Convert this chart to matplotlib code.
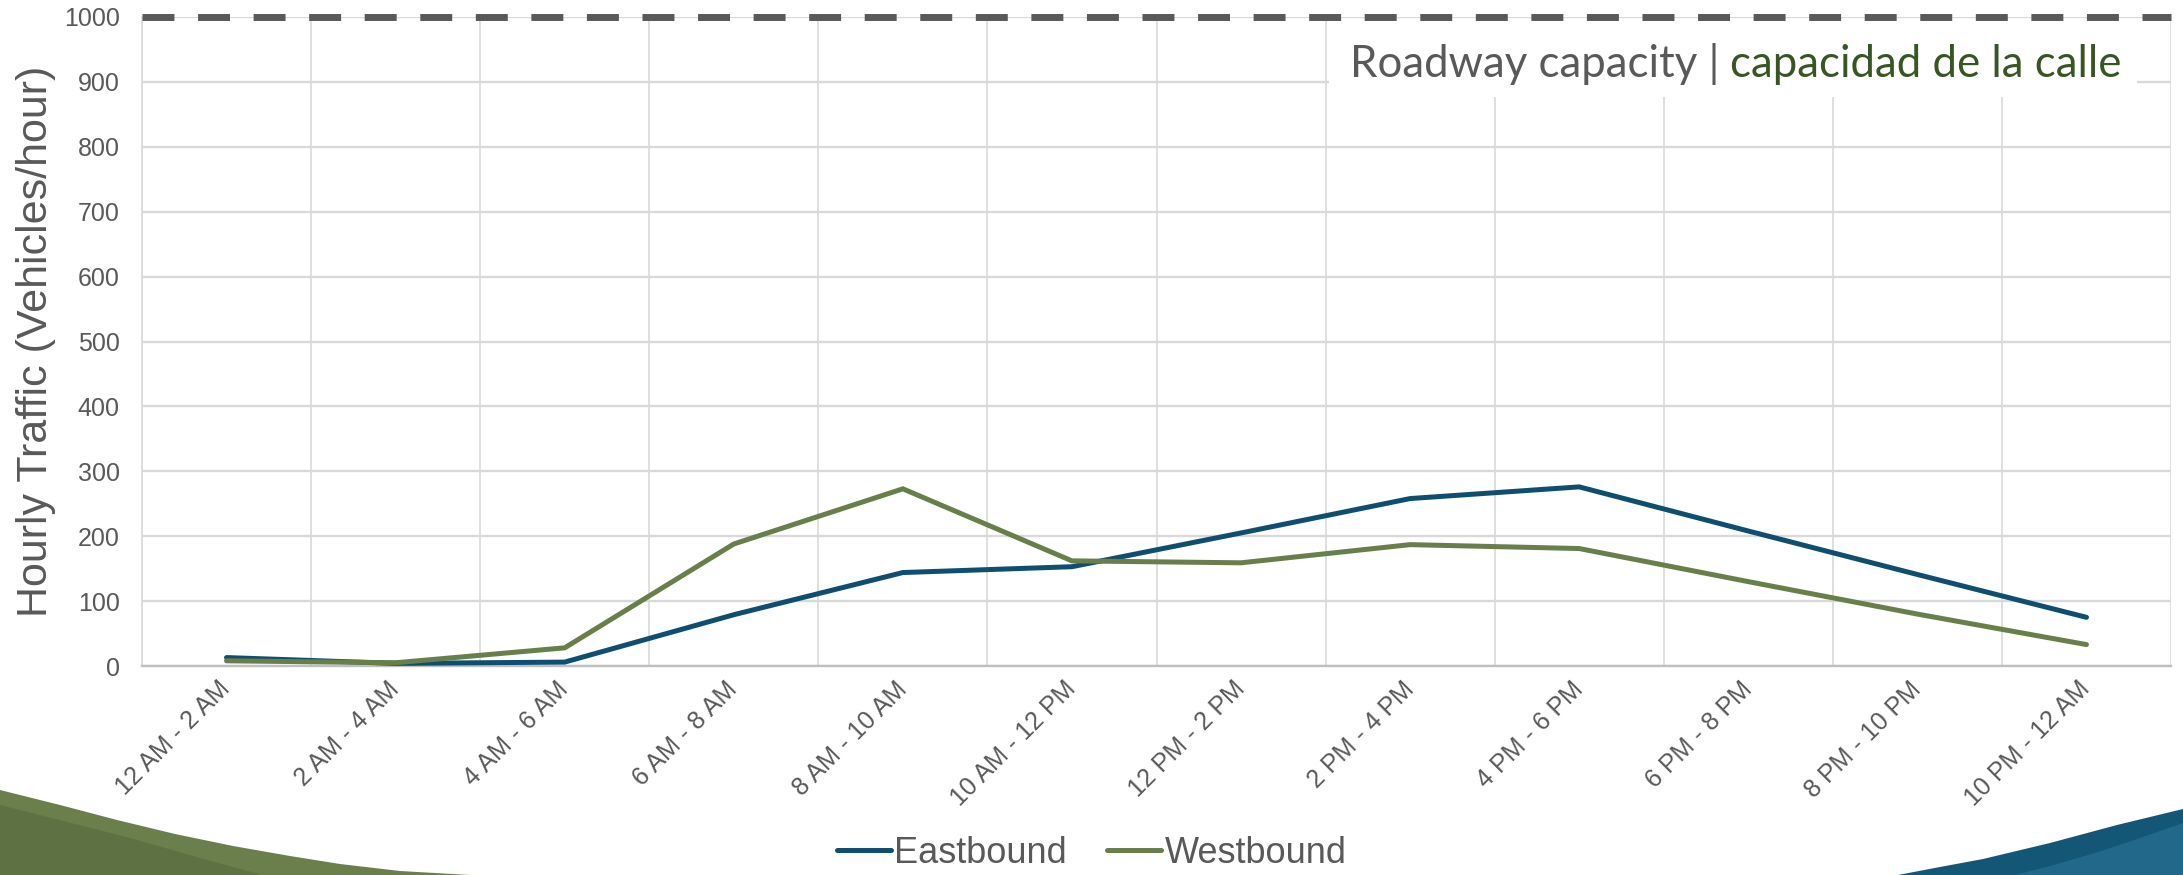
import matplotlib
matplotlib.use("Agg")
import matplotlib.pyplot as plt
from matplotlib.patches import Polygon, Rectangle
import numpy as np

plt.rcParams['font.family'] = ['Liberation Sans', 'DejaVu Sans']

categories = ["12 AM - 2 AM", "2 AM - 4 AM", "4 AM - 6 AM", "6 AM - 8 AM",
              "8 AM - 10 AM", "10 AM - 12 PM", "12 PM - 2 PM", "2 PM - 4 PM",
              "4 PM - 6 PM", "6 PM - 8 PM", "8 PM - 10 PM", "10 PM - 12 AM"]
eastbound = [13, 4, 6, 79, 144, 153, 205, 258, 276, 208, 141, 75]
westbound = [8, 5, 28, 188, 273, 162, 159, 187, 181, 130, 80, 33]
capacity = 1000
y_ticks = [0, 100, 200, 300, 400, 500, 600, 700, 800, 900, 1000]

W, H = 2183, 875
fig = plt.figure(figsize=(W / 100, H / 100), dpi=100)
ax = fig.add_axes([142 / W, 1 - 666 / H, (2171 - 142) / W, 649 / H])

GRAY = '#595959'
EAST_C = '#0E4F71'
WEST_C = '#687F4A'

x = np.arange(len(categories)) + 0.5
ax.plot(x, eastbound, color=EAST_C, lw=3.6, solid_joinstyle='miter', solid_capstyle='round',
        zorder=3, label='Eastbound')
ax.plot(x, westbound, color=WEST_C, lw=3.6, solid_joinstyle='miter', solid_capstyle='round',
        zorder=3, label='Westbound')
ax.axhline(capacity, color=GRAY, lw=5, dashes=(4.6, 3.4), dash_capstyle='butt', zorder=5,
           clip_on=False)

ax.set_xlim(0, len(categories))
ax.set_ylim(0, 1000)
ax.set_yticks(y_ticks)
ax.set_yticklabels([str(v) for v in y_ticks])
ax.set_xticks(x)
ax.set_xticklabels(categories, rotation=45, ha='right', va='center', rotation_mode='anchor')
ax.set_xticks(np.arange(len(categories) + 1), minor=True)
ax.tick_params(axis='both', which='both', length=0, colors=GRAY, labelsize=18)
ax.tick_params(axis='y', pad=16)
ax.tick_params(axis='x', pad=14)

ax.set_axisbelow(True)
ax.grid(axis='y', which='major', color='#D9D9D9', lw=1.7)
ax.grid(axis='x', which='minor', color='#D9D9D9', lw=1.2)
ax.grid(axis='x', which='major', visible=False)
for s in ['top', 'right']:
    ax.spines[s].set_visible(False)
ax.spines['left'].set_color('#D9D9D9')
ax.spines['left'].set_linewidth(1.2)
ax.spines['bottom'].set_color('#BFBFBF')
ax.spines['bottom'].set_linewidth(1.7)

ax.set_ylabel('Hourly Traffic (Vehicles/hour)', fontsize=31, color=GRAY, labelpad=6)

# annotation box
ax.add_patch(Rectangle((0.585, 0.877), 0.398, 0.117, transform=ax.transAxes,
                       facecolor='white', edgecolor='none', zorder=1))
ANN_FONT = ['Lato', 'DejaVu Sans']
t1 = ax.text(0.5953, 0.927, 'Roadway capacity |', transform=ax.transAxes,
             fontsize=31.5, color=GRAY, va='center', ha='left', zorder=6, family=ANN_FONT)
ax.annotate('capacidad de la calle', xy=(1, 0), xycoords=t1, xytext=(8, 0),
            textcoords='offset points', va='bottom', ha='left', fontsize=31.5,
            color='#375623', zorder=6, family=ANN_FONT)

leg = fig.legend(loc='lower center', bbox_to_anchor=(0.5, -0.012), ncol=2, frameon=False,
                 fontsize=26, handlelength=1.5, handletextpad=0.1, columnspacing=1.1,
                 borderaxespad=0)
for t in leg.get_texts():
    t.set_color(GRAY)

# decorative swooshes
def px(pts):
    return [(a / W, 1 - b / H) for a, b in pts]

fig.patches.append(Polygon(px([(0, 790), (60, 805), (117, 820), (175, 834), (233, 846),
                               (290, 856), (340, 864), (400, 871), (470, 875), (0, 875)]),
                           closed=True, transform=fig.transFigure, facecolor='#6A7F4C',
                           edgecolor='none', zorder=0))
fig.patches.append(Polygon(px([(0, 805), (130, 838), (200, 858), (262, 875), (0, 875)]),
                           closed=True, transform=fig.transFigure, facecolor='#5D7142',
                           edgecolor='none', zorder=0))
fig.patches.append(Polygon(px([(2183, 809), (2117, 825), (2050, 843), (1983, 859), (1940, 867),
                               (1898, 875), (2183, 875)]),
                           closed=True, transform=fig.transFigure, facecolor='#135676',
                           edgecolor='none', zorder=0))
fig.patches.append(Polygon(px([(2183, 823), (2140, 838), (2095, 853), (2050, 866), (2015, 875),
                               (2183, 875)]),
                           closed=True, transform=fig.transFigure, facecolor='#22688A',
                           edgecolor='none', zorder=0))

fig.savefig('out.png', dpi=100)
